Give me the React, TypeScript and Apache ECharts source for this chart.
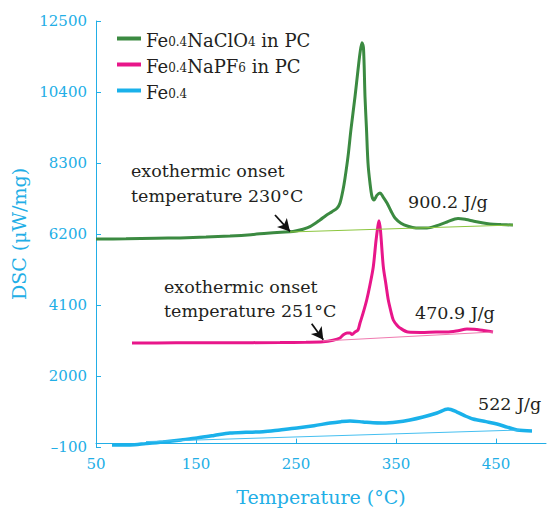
import React, { useEffect, useRef } from "react";
import * as echarts from "echarts";

// Fe0.4NaClO4 in PC
const clo4Temp = [50, 80, 110, 134, 160, 184, 205, 221, 235, 247, 257, 264, 274, 280, 286, 291, 294, 297, 299, 302, 305, 309, 312, 314, 316, 317.5, 319, 320.5, 322, 324, 326, 328, 331, 334, 337, 341, 345, 349, 355, 362, 370, 381, 390, 401, 412, 420, 427, 436, 444, 455, 467];
const clo4Dsc = [6050, 6060, 6075, 6085, 6110, 6141, 6180, 6225, 6255, 6275, 6340, 6417, 6614, 6750, 6860, 6960, 7117, 7502, 7850, 8487, 9300, 10260, 11050, 11550, 11860, 11700, 10260, 9300, 8300, 7700, 7304, 7206, 7350, 7413, 7300, 7117, 6880, 6674, 6520, 6430, 6380, 6378, 6440, 6555, 6660, 6630, 6585, 6530, 6496, 6480, 6466];

// Fe0.4NaPF6 in PC
const pf6Temp = [86, 130, 180, 234, 260, 277, 287, 294, 297, 301, 304, 306, 309, 312, 314, 317, 320.7, 324, 327.3, 330, 332, 333, 334.5, 337.3, 340, 342.3, 345, 347.3, 351, 354, 362, 375, 390, 401, 412, 421, 428, 434, 447];
const pf6Dsc = [2976, 2980, 2985, 2990, 3000, 3015, 3060, 3124, 3213, 3272, 3275, 3230, 3300, 3361, 3567, 3850, 4248, 4700, 5233, 6000, 6450, 6594, 6300, 5233, 4700, 4248, 3900, 3656, 3500, 3420, 3301, 3290, 3300, 3301, 3340, 3390, 3380, 3360, 3301];

// Fe0.4
const feTemp = [66, 84, 100, 117, 135, 151, 168, 184, 200, 217, 234, 251, 268, 284, 295, 304, 317, 327, 337, 351, 364, 377, 391, 402, 411, 419, 427, 440, 451, 461, 471, 486];
const feDsc = [-41, -41, 0, 48, 110, 166, 240, 314, 335, 350, 405, 462, 530, 610, 650, 669, 640, 615, 610, 640, 700, 787, 906, 1024, 935, 820, 728, 650, 580, 490, 403, 373];

// integration baselines
const clo4BaseTemp = [244, 467];
const clo4BaseDsc = [6259, 6466];
const pf6BaseTemp = [277, 447];
const pf6BaseDsc = [3035, 3301];
const feBaseTemp = [100, 474];
const feBaseDsc = [60, 403];

// onset arrows [fromT, fromV, toT, toV]
const clo4Arrow = [229, 6762, 244, 6275];
const pf6Arrow = [265.7, 3547, 277.3, 3074];

const xTicks = [50, 150, 250, 350, 450];
const seriesNames = ["Fe0.4NaClO4 in PC", "Fe0.4NaPF6 in PC", "Fe0.4"];

const zip = (a: number[], b: number[]) => a.map((v, i) => [v, b[i]]);

const AXIS = "#22aee6";
const TXT = "#231f20";
const FONT = '"DejaVu Serif", "Liberation Serif", serif';

export default function App() {
  const ref = useRef<HTMLDivElement>(null);
  useEffect(() => {
    if (!ref.current) return;
    const chart = echarts.init(ref.current, null, { renderer: "svg" });
    const arrowLine = (arr: number[]) => ({
      silent: true,
      symbol: ["none", "arrow"],
      symbolSize: [10, 12],
      label: { show: false },
      lineStyle: { color: "#111", width: 1.8, type: "solid" },
      data: [[{ coord: [arr[0], arr[1]] }, { coord: [arr[2], arr[3]] }]],
    });
    const legendRich = {
      n: { fontFamily: FONT, fontSize: 18, color: TXT, lineHeight: 21, verticalAlign: "bottom" },
      s: { fontFamily: FONT, fontSize: 12, color: TXT, lineHeight: 21, verticalAlign: "bottom", padding: [0, 0, 1, 0] },
    };
    const legendFmt: Record<string, string> = {
      "Fe0.4NaClO4 in PC": "{n|Fe}{s|0.4}{n|NaClO}{s|4}{n| in PC}",
      "Fe0.4NaPF6 in PC": "{n|Fe}{s|0.4}{n|NaPF}{s|6}{n| in PC}",
      "Fe0.4": "{n|Fe}{s|0.4}",
    };
    const txt = (text: string, x: number, y: number) => ({
      type: "text",
      x,
      y,
      silent: true,
      style: { text, font: `17.5px ${FONT}`, fill: TXT, textVerticalAlign: "middle" },
    });
    chart.setOption({
      animation: false,
      backgroundColor: "#fff",
      grid: { left: 96, right: 1, top: 21, bottom: 64, containLabel: false },
      legend: {
        data: seriesNames,
        orient: "vertical",
        left: 112,
        top: 26,
        itemGap: 8,
        itemWidth: 24,
        itemHeight: 4,
        icon: "rect",
        formatter: (name: string) => legendFmt[name],
        textStyle: { rich: legendRich, fontFamily: FONT, fontSize: 18, color: TXT },
      },
      xAxis: {
        type: "value",
        min: 50,
        max: 500,
        interval: 100,
        name: "Temperature (°C)",
        nameLocation: "middle",
        nameGap: 40,
        nameTextStyle: { color: AXIS, fontFamily: FONT, fontSize: 19 },
        axisLine: { lineStyle: { color: AXIS, width: 1 } },
        axisTick: { inside: true, length: 5, lineStyle: { color: AXIS }, customValues: xTicks },
        axisLabel: { color: AXIS, fontFamily: FONT, fontSize: 15, margin: 9, customValues: xTicks },
        splitLine: { show: false },
      },
      yAxis: {
        type: "value",
        min: -100,
        max: 12500,
        interval: 2100,
        name: "DSC (μW/mg)",
        nameLocation: "middle",
        nameGap: 64,
        nameTextStyle: { color: AXIS, fontFamily: FONT, fontSize: 19 },
        axisLine: { show: true, lineStyle: { color: AXIS, width: 1 } },
        axisTick: { show: true, inside: true, length: 5, lineStyle: { color: AXIS } },
        axisLabel: {
          color: AXIS,
          fontFamily: FONT,
          fontSize: 15,
          margin: 9,
          formatter: (v: number) => (v < 0 ? "–" + Math.abs(v) : String(v)),
        },
        splitLine: { show: false },
      },
      graphic: [
        txt("exothermic onset", 131, 171),
        txt("temperature 230°C", 131, 196),
        txt("900.2 J/g", 408, 202),
        txt("exothermic onset", 164, 287),
        txt("temperature 251°C", 164, 311),
        txt("470.9 J/g", 415, 313),
        txt("522 J/g", 478, 404),
      ],
      series: [
        {
          name: seriesNames[0],
          type: "line",
          data: zip(clo4Temp, clo4Dsc),
          showSymbol: false,
          smooth: 0.3,
          color: "#3b8a41",
          lineStyle: { width: 3 },
          z: 3,
          markLine: arrowLine(clo4Arrow),
        },
        {
          name: seriesNames[1],
          type: "line",
          data: zip(pf6Temp, pf6Dsc),
          showSymbol: false,
          smooth: 0.3,
          color: "#e8168a",
          lineStyle: { width: 3 },
          z: 3,
          markLine: arrowLine(pf6Arrow),
        },
        {
          name: seriesNames[2],
          type: "line",
          data: zip(feTemp, feDsc),
          showSymbol: false,
          smooth: 0.3,
          color: "#1ab1ea",
          lineStyle: { width: 3.5 },
          z: 3,
        },
        {
          name: "clo4 base",
          type: "line",
          data: zip(clo4BaseTemp, clo4BaseDsc),
          showSymbol: false,
          silent: true,
          color: "#8cc63f",
          lineStyle: { width: 1 },
          z: 4,
        },
        {
          name: "pf6 base",
          type: "line",
          data: zip(pf6BaseTemp, pf6BaseDsc),
          showSymbol: false,
          silent: true,
          color: "#f07ab0",
          lineStyle: { width: 1 },
          z: 4,
        },
        {
          name: "fe base",
          type: "line",
          data: zip(feBaseTemp, feBaseDsc),
          showSymbol: false,
          silent: true,
          color: "#45bff0",
          lineStyle: { width: 1 },
          z: 4,
        },
      ],
    });
    return () => chart.dispose();
  }, []);
  return (
    <div
      ref={ref}
      style={{ position: "fixed", left: 0, top: 0, width: 547, height: 511, background: "#fff" }}
    />
  );
}
